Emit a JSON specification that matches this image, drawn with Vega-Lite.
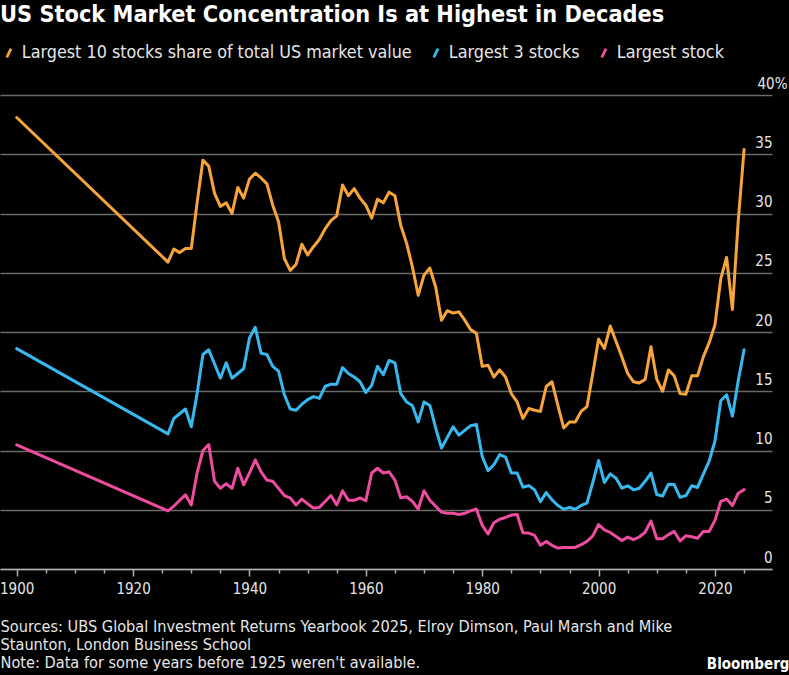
{
  "$schema": "https://vega.github.io/schema/vega-lite/v6.json",
  "width": 772,
  "height": 474,
  "autosize": {"type": "none"},
  "padding": {"left": 0, "top": 95, "right": 17, "bottom": 106},
  "background": "#000000",
  "config": {
    "view": {"stroke": null},
    "font": "DejaVu Sans Condensed, Liberation Sans Narrow, DejaVu Sans, sans-serif"
  },
  "title": {
    "text": "US Stock Market Concentration Is at Highest in Decades",
    "anchor": "start",
    "frame": "group",
    "fontSize": 23.3,
    "fontWeight": "bold",
    "color": "#ffffff",
    "font": "DejaVu Sans Condensed, Liberation Sans Narrow, DejaVu Sans, sans-serif",
    "offset": 17
  },
  "data": {
    "values": [
      {"year": 1900, "t10": 38.1, "t3": 18.6, "t1": 10.47},
      {"year": 1926, "t10": 25.9, "t3": 11.4, "t1": 4.9},
      {"year": 1927, "t10": 27.0, "t3": 12.7, "t1": 5.3},
      {"year": 1928, "t10": 26.7, "t3": 13.1, "t1": 5.8},
      {"year": 1929, "t10": 27.05, "t3": 13.5, "t1": 6.26},
      {"year": 1930, "t10": 27.05, "t3": 12.0, "t1": 5.4},
      {"year": 1931, "t10": 30.9, "t3": 14.8, "t1": 8.1},
      {"year": 1932, "t10": 34.5, "t3": 18.1, "t1": 10.0},
      {"year": 1933, "t10": 34.0, "t3": 18.5, "t1": 10.5},
      {"year": 1934, "t10": 31.7, "t3": 17.3, "t1": 7.4},
      {"year": 1935, "t10": 30.6, "t3": 16.1, "t1": 6.8},
      {"year": 1936, "t10": 30.9, "t3": 17.4, "t1": 7.2},
      {"year": 1937, "t10": 30.0, "t3": 16.1, "t1": 6.8},
      {"year": 1938, "t10": 32.2, "t3": 16.5, "t1": 8.5},
      {"year": 1939, "t10": 31.3, "t3": 16.9, "t1": 7.1},
      {"year": 1940, "t10": 32.9, "t3": 19.5, "t1": 8.1},
      {"year": 1941, "t10": 33.4, "t3": 20.4, "t1": 9.2},
      {"year": 1942, "t10": 33.0, "t3": 18.2, "t1": 8.2},
      {"year": 1943, "t10": 32.5, "t3": 18.1, "t1": 7.5},
      {"year": 1944, "t10": 30.7, "t3": 17.1, "t1": 7.4},
      {"year": 1945, "t10": 29.3, "t3": 16.7, "t1": 6.8},
      {"year": 1946, "t10": 26.2, "t3": 14.7, "t1": 6.2},
      {"year": 1947, "t10": 25.2, "t3": 13.5, "t1": 6.0},
      {"year": 1948, "t10": 25.7, "t3": 13.4, "t1": 5.4},
      {"year": 1949, "t10": 27.4, "t3": 13.9, "t1": 5.9},
      {"year": 1950, "t10": 26.5, "t3": 14.3, "t1": 5.5},
      {"year": 1951, "t10": 27.2, "t3": 14.55, "t1": 5.14},
      {"year": 1952, "t10": 27.8, "t3": 14.4, "t1": 5.2},
      {"year": 1953, "t10": 28.7, "t3": 15.4, "t1": 5.7},
      {"year": 1954, "t10": 29.4, "t3": 15.6, "t1": 6.2},
      {"year": 1955, "t10": 29.8, "t3": 15.6, "t1": 5.4},
      {"year": 1956, "t10": 32.4, "t3": 17.0, "t1": 6.6},
      {"year": 1957, "t10": 31.5, "t3": 16.5, "t1": 5.8},
      {"year": 1958, "t10": 32.1, "t3": 16.2, "t1": 5.8},
      {"year": 1959, "t10": 31.3, "t3": 15.8, "t1": 6.0},
      {"year": 1960, "t10": 30.7, "t3": 14.9, "t1": 5.76},
      {"year": 1961, "t10": 29.6, "t3": 15.5, "t1": 8.1},
      {"year": 1962, "t10": 31.2, "t3": 17.1, "t1": 8.5},
      {"year": 1963, "t10": 30.9, "t3": 16.4, "t1": 8.1},
      {"year": 1964, "t10": 31.8, "t3": 17.6, "t1": 8.2},
      {"year": 1965, "t10": 31.5, "t3": 17.4, "t1": 7.5},
      {"year": 1966, "t10": 29.0, "t3": 14.8, "t1": 6.0},
      {"year": 1967, "t10": 27.5, "t3": 14.1, "t1": 6.1},
      {"year": 1968, "t10": 25.5, "t3": 13.8, "t1": 5.7},
      {"year": 1969, "t10": 23.1, "t3": 12.4, "t1": 5.06},
      {"year": 1970, "t10": 24.8, "t3": 14.1, "t1": 6.6},
      {"year": 1971, "t10": 25.4, "t3": 13.8, "t1": 5.8},
      {"year": 1972, "t10": 23.8, "t3": 11.9, "t1": 5.3},
      {"year": 1973, "t10": 21.0, "t3": 10.2, "t1": 4.8},
      {"year": 1974, "t10": 21.8, "t3": 11.1, "t1": 4.7},
      {"year": 1975, "t10": 21.6, "t3": 12.0, "t1": 4.7},
      {"year": 1976, "t10": 21.7, "t3": 11.3, "t1": 4.6},
      {"year": 1977, "t10": 21.0, "t3": 11.7, "t1": 4.7},
      {"year": 1978, "t10": 20.2, "t3": 12.1, "t1": 4.9},
      {"year": 1979, "t10": 19.9, "t3": 12.2, "t1": 5.06},
      {"year": 1980, "t10": 17.1, "t3": 9.5, "t1": 3.7},
      {"year": 1981, "t10": 17.2, "t3": 8.3, "t1": 2.95},
      {"year": 1982, "t10": 16.2, "t3": 8.8, "t1": 3.9},
      {"year": 1983, "t10": 16.8, "t3": 9.65, "t1": 4.2},
      {"year": 1984, "t10": 16.2, "t3": 9.45, "t1": 4.35},
      {"year": 1985, "t10": 14.8, "t3": 8.1, "t1": 4.55},
      {"year": 1986, "t10": 14.1, "t3": 8.1, "t1": 4.6},
      {"year": 1987, "t10": 12.7, "t3": 6.9, "t1": 3.05},
      {"year": 1988, "t10": 13.55, "t3": 7.04, "t1": 3.03},
      {"year": 1989, "t10": 13.4, "t3": 6.68, "t1": 2.83},
      {"year": 1990, "t10": 13.3, "t3": 5.69, "t1": 2.0},
      {"year": 1991, "t10": 15.4, "t3": 6.45, "t1": 2.33},
      {"year": 1992, "t10": 15.8, "t3": 5.83, "t1": 2.0},
      {"year": 1993, "t10": 13.8, "t3": 5.36, "t1": 1.77},
      {"year": 1994, "t10": 11.9, "t3": 5.05, "t1": 1.82},
      {"year": 1995, "t10": 12.4, "t3": 5.19, "t1": 1.82},
      {"year": 1996, "t10": 12.4, "t3": 5.05, "t1": 1.82},
      {"year": 1997, "t10": 13.3, "t3": 5.36, "t1": 2.05},
      {"year": 1998, "t10": 13.7, "t3": 5.56, "t1": 2.33},
      {"year": 1999, "t10": 16.5, "t3": 7.3, "t1": 2.8},
      {"year": 2000, "t10": 19.4, "t3": 9.15, "t1": 3.75},
      {"year": 2001, "t10": 18.6, "t3": 7.3, "t1": 3.3},
      {"year": 2002, "t10": 20.5, "t3": 8.03, "t1": 3.08},
      {"year": 2003, "t10": 19.2, "t3": 7.66, "t1": 2.75},
      {"year": 2004, "t10": 17.9, "t3": 6.82, "t1": 2.41},
      {"year": 2005, "t10": 16.5, "t3": 7.02, "t1": 2.69},
      {"year": 2006, "t10": 15.8, "t3": 6.68, "t1": 2.47},
      {"year": 2007, "t10": 15.7, "t3": 6.82, "t1": 2.7},
      {"year": 2008, "t10": 16.0, "t3": 7.4, "t1": 3.1},
      {"year": 2009, "t10": 18.75, "t3": 8.1, "t1": 4.05},
      {"year": 2010, "t10": 16.0, "t3": 6.28, "t1": 2.55},
      {"year": 2011, "t10": 15.0, "t3": 6.16, "t1": 2.55},
      {"year": 2012, "t10": 16.8, "t3": 7.15, "t1": 2.9},
      {"year": 2013, "t10": 16.3, "t3": 7.13, "t1": 3.17},
      {"year": 2014, "t10": 14.8, "t3": 6.05, "t1": 2.37},
      {"year": 2015, "t10": 14.75, "t3": 6.19, "t1": 2.8},
      {"year": 2016, "t10": 16.3, "t3": 7.02, "t1": 2.72},
      {"year": 2017, "t10": 16.3, "t3": 6.88, "t1": 2.6},
      {"year": 2018, "t10": 17.9, "t3": 8.0, "t1": 3.17},
      {"year": 2019, "t10": 19.1, "t3": 9.1, "t1": 3.17},
      {"year": 2020, "t10": 20.6, "t3": 10.8, "t1": 4.1},
      {"year": 2021, "t10": 24.5, "t3": 14.2, "t1": 5.7},
      {"year": 2022, "t10": 26.3, "t3": 14.7, "t1": 5.9},
      {"year": 2023, "t10": 21.9, "t3": 12.9, "t1": 5.35},
      {"year": 2024, "t10": 29.4, "t3": 15.9, "t1": 6.4},
      {"year": 2025, "t10": 35.4, "t3": 18.5, "t1": 6.7}
    ]
  },
  "transform": [{"fold": ["t10", "t3", "t1"], "as": ["series", "value"]}],
  "mark": {"type": "line", "strokeWidth": 3, "strokeJoin": "round", "strokeCap": "round"},
  "encoding": {
    "x": {
      "field": "year",
      "type": "quantitative",
      "scale": {"domain": [1897.13, 2029.8], "nice": false, "zero": false},
      "axis": {
        "values": [1900, 1905, 1910, 1915, 1920, 1925, 1930, 1935, 1940, 1945, 1950, 1955, 1960, 1965, 1970, 1975, 1980, 1985, 1990, 1995, 2000, 2005, 2010, 2015, 2020, 2025],
        "format": "d",
        "labelExpr": "datum.value % 20 == 0 ? datum.label : ''",
        "grid": false,
        "domainColor": "#b0b0b0",
        "domainWidth": 1.5,
        "tickColor": "#b0b0b0",
        "tickWidth": 1.5,
        "tickSize": {"condition": {"test": "datum.value % 20 == 0", "value": 7}, "value": 4},
        "labelColor": "#e6e6e6",
        "labelFontSize": 15,
        "labelPadding": 5,
        "labelFlush": false,
        "labelOverlap": false,
        "title": ["Sources: UBS Global Investment Returns Yearbook 2025, Elroy Dimson, Paul Marsh and Mike", "Staunton, London Business School", "Note: Data for some years before 1925 weren't available."],
        "titleX": 0,
        "titleY": 62,
        "titleAlign": "left",
        "titleAnchor": "start",
        "titleBaseline": "alphabetic",
        "titleColor": "#e6e6e6",
        "titleFontSize": 16.2,
        "titleFontWeight": "normal",
        "titleLineHeight": 18
      }
    },
    "y": {
      "field": "value",
      "type": "quantitative",
      "scale": {"domain": [0, 40], "nice": false},
      "axis": {
        "orient": "right",
        "values": [0, 5, 10, 15, 20, 25, 30, 35, 40],
        "labelExpr": "datum.value == 40 ? '40%' : datum.label",
        "grid": true,
        "gridColor": "#6a6a6a",
        "gridWidth": 1.5,
        "domain": false,
        "ticks": false,
        "tickSize": 0,
        "labelAlign": "right",
        "labelBaseline": "alphabetic",
        "labelPadding": {"condition": {"test": "datum.value == 40", "value": 15}, "value": 0},
        "labelOffset": -7,
        "labelColor": "#e6e6e6",
        "labelFontSize": 15,
        "labelFlush": false,
        "labelOverlap": false,
        "title": "Bloomberg",
        "titleAngle": 0,
        "titleX": 17,
        "titleY": 573,
        "titleAlign": "right",
        "titleBaseline": "alphabetic",
        "titleColor": "#ffffff",
        "titleFontSize": 15,
        "titleFontWeight": "bold"
      }
    },
    "color": {
      "field": "series",
      "type": "nominal",
      "scale": {"domain": ["t10", "t3", "t1"], "range": ["#f7a43a", "#37b8ee", "#ee4c9f"]},
      "legend": {
        "orient": "none",
        "legendX": 0,
        "legendY": -51,
        "direction": "horizontal",
        "title": null,
        "labelExpr": "datum.value == 't10' ? 'Largest 10 stocks share of total US market value' : datum.value == 't3' ? 'Largest 3 stocks' : 'Largest stock'",
        "symbolType": "M-0.3,0.62L0.3,-0.62",
        "symbolSize": 200,
        "symbolStrokeWidth": 2.8,
        "labelColor": "#e6e6e6",
        "labelFontSize": 17.8,
        "labelOffset": 4,
        "columnPadding": 15,
        "labelLimit": 0
      }
    }
  }
}
